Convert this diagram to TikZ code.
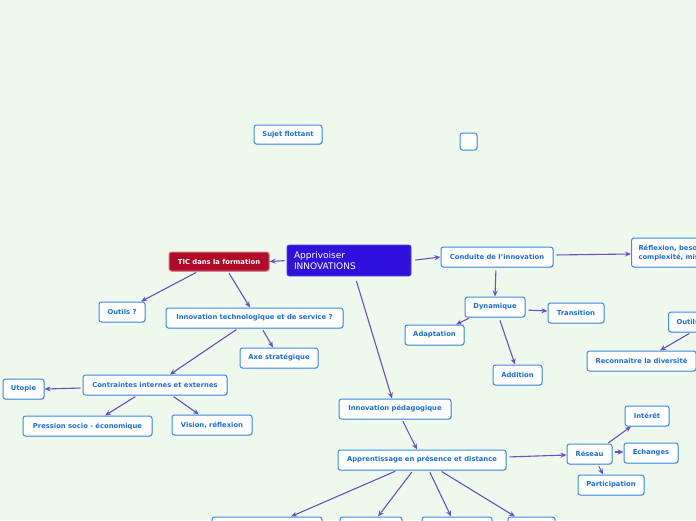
\documentclass[tikz,border=0pt]{standalone}
\usepackage{fontspec}
\setmainfont{DejaVu Sans}
\usetikzlibrary{calc,arrows.meta,shadows}
\definecolor{bg}{HTML}{EFF8EC}
\definecolor{nodeborder}{HTML}{3A8DE3}
\definecolor{nodetext}{HTML}{1C6FD8}
\definecolor{rootfill}{HTML}{3010DC}
\definecolor{ticfill}{HTML}{B00B2B}
\definecolor{ticborder}{HTML}{D9707F}
\definecolor{link}{HTML}{6A50C2}
\tikzset{
  topic/.style={draw=nodeborder, line width=1pt, fill=white, rounded corners=2.5pt,
    text=nodetext, font=\fontsize{6.8}{8}\selectfont\bfseries, inner xsep=2pt, inner ysep=0pt,
    minimum height=20pt, drop shadow={opacity=0.25, shadow xshift=0.8pt, shadow yshift=-0.8pt}},
  rootbox/.style={draw=rootfill!80!white, line width=0.6pt, fill=rootfill, rounded corners=2pt,
    text=white, font=\fontsize{9}{11}\selectfont, align=left, inner sep=0pt},
  ticbox/.style={topic, draw=ticborder, fill=ticfill, text=white},
  link/.style={draw=link, line width=1.1pt, -{Stealth[length=6pt,width=5pt]}, shorten <=2pt}
}
\begin{document}
\begin{tikzpicture}[x=1pt,y=-1pt]
\useasboundingbox (0,0) rectangle (696,520);
\fill[bg] (0,0) rectangle (696,520);
\clip (0,0) rectangle (696,520);

% nodes
\node[topic, minimum width=68pt, minimum height=19pt] (sujet) at (288,134.5) {Sujet flottant};
\node[topic, minimum width=17pt, minimum height=17pt] (empty) at (468.5,141.5) {};
\node[rootbox, minimum width=124pt, minimum height=31pt, text width=110pt] (root) at (349,260.5) {Apprivoiser\\INNOVATIONS};
\node[ticbox, minimum width=100pt, minimum height=19pt] (tic) at (219,261.5) {TIC dans la formation};
\node[topic, minimum width=112pt] (conduite) at (497,257) {Conduite de l'innovation};
\node[topic, anchor=west, minimum height=29pt, text width=130pt, align=left, inner xsep=7pt, font=\fontsize{6.8}{9}\selectfont\bfseries] (reflex) at (631,252.5) {Réflexion, besoins,\\complexité, mise en œuvre};
\node[topic, minimum width=60pt] (dyn) at (495,307) {Dynamique};
\node[topic, minimum width=56pt] (trans) at (576,313) {Transition};
\node[topic, minimum width=59pt] (adapt) at (434.5,335) {Adaptation};
\node[topic, minimum width=49pt] (addition) at (517.5,375) {Addition};
\node[topic, anchor=west, text width=50pt, align=left, inner xsep=8pt] (outilsR) at (668,322) {Outils};
\node[topic, minimum width=109pt] (reconn) at (641.5,361) {Reconnaître la diversité};
\node[topic, minimum width=46pt] (outilsQ) at (122,312) {Outils ?};
\node[topic, minimum width=177pt] (innotech) at (254.5,318) {Innovation technologique et de service ?};
\node[topic, minimum width=78pt] (axe) at (279,358) {Axe stratégique};
\node[topic, minimum width=144pt] (contr) at (155,385) {Contraintes internes et externes};
\node[topic, minimum width=41pt] (utopie) at (23.5,389) {Utopie};
\node[topic, minimum width=129pt] (pression) at (87.5,426) {Pression socio - économique};
\node[topic, minimum width=80pt] (vision) at (212,425) {Vision, réflexion};
\node[topic, minimum width=112pt] (innoped) at (395,409) {Innovation pédagogique};
\node[topic, minimum width=168pt] (appr) at (422,460) {Apprentissage en présence et distance};
\node[topic, minimum width=45pt] (reseau) at (589.5,454) {Réseau};
\node[topic, minimum width=44pt] (interet) at (647,416) {Intérêt};
\node[topic, minimum width=54pt] (echanges) at (651,453) {Echanges};
\node[topic, minimum width=66pt] (partic) at (611,485) {Participation};
\node[topic, minimum width=110pt] (b1) at (267,527) {};
\node[topic, minimum width=62pt] (b2) at (371,527) {};
\node[topic, minimum width=70pt] (b3) at (457,527) {};
\node[topic, minimum width=47pt] (b4) at (531.5,527) {};

% connectors
\draw[link] (root.west) -- (tic.east);
\draw[link, shorten <=4pt] (root.east) -- (conduite.west);
\draw[link, shorten <=5pt] ($(root.south)+(6,0)$) -- ($(innoped.north)+(-3,0)$);
\draw[link] ($(tic.south)+(-21,0)$) -- ($(outilsQ.north)+(19,0)$);
\draw[link] ($(tic.south)+(9,0)$) -- ($(innotech.north)+(-4.5,0)$);
\draw[link] ($(innotech.south)+(-16.5,0)$) -- ($(contr.north)+(15,0)$);
\draw[link] ($(innotech.south)+(7.5,0)$) -- ($(axe.north)+(-6,0)$);
\draw[link] ($(contr.west)+(0,3)$) -- (utopie.east);
\draw[link] ($(contr.south)+(-18,0)$) -- ($(pression.north)+(17.5,0)$);
\draw[link] ($(contr.south)+(17,0)$) -- ($(vision.north)+(-13,0)$);
\draw[link, shorten <=3pt] ($(conduite.east)+(0,-2)$) -- ($(reflex.west)+(0,1.5)$);
\draw[link, shorten <=3pt] ($(conduite.south)+(-1,0)$) -- (dyn.north);
\draw[link] ($(dyn.south west)+(6,0)$) -- ($(adapt.north)+(21.5,0)$);
\draw[link, shorten <=3pt] ($(dyn.east)+(0,3)$) -- ($(trans.west)+(0,-2)$);
\draw[link, shorten <=3pt] ($(dyn.south)+(4,0)$) -- ($(addition.north)+(-2.5,0)$);
\draw[link] ($(outilsR.south west)+(23,0)$) -- ($(reconn.north)+(18.5,0)$);
\draw[link] ($(innoped.south)+(7,0)$) -- ($(appr.north)+(-5,0)$);
\draw[link, shorten <=3pt] ($(appr.east)+(0,-3)$) -- ($(reseau.west)+(0,1)$);
\draw[link] ($(appr.south)+(-25,0)$) -- ($(b1.north)+(24,0)$);
\draw[link] ($(appr.south)+(-9,0)$) -- ($(b2.north)+(7,0)$);
\draw[link] ($(appr.south)+(7,0)$) -- ($(b3.north)+(-6,0)$);
\draw[link] ($(appr.south)+(18,0)$) -- ($(b4.north)+(-16.5,0)$);
\draw[link, shorten <=1pt] ($(reseau.north east)+(-5,0)$) -- ($(interet.south)+(-16,0)$);
\draw[link] ($(reseau.east)+(0,-2)$) -- ($(echanges.west)+(0,-1)$);
\draw[link] ($(reseau.south)+(8.5,0)$) -- ($(partic.north)+(-8,0)$);
\end{tikzpicture}
\end{document}
